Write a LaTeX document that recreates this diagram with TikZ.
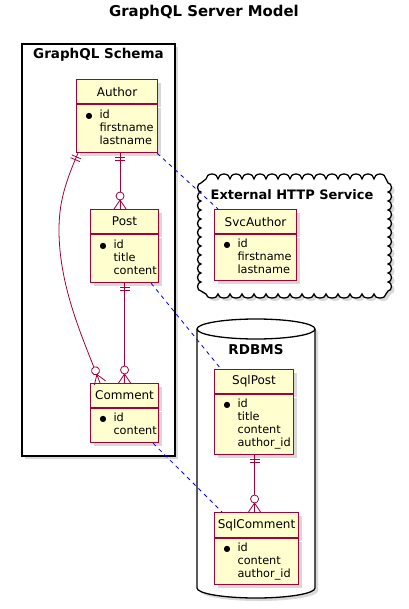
\documentclass[tikz,border=0pt]{standalone}
\usepackage{fontspec}
\setmainfont{DejaVu Sans}
\usepackage{tikz}
\usetikzlibrary{positioning}
\usetikzlibrary{calc}
\usetikzlibrary{shadows}
\usetikzlibrary{decorations.markings}

\definecolor{erred}{HTML}{A80036}
\definecolor{erfill}{HTML}{FEFECE}
\definecolor{linkblue}{HTML}{0000FF}

\newcommand{\pk}{{\fontsize{8}{8}\selectfont ●}}

\tikzset{
    entity/.style={rectangle,draw=erred,fill=erfill,line width=1.1pt,inner sep=0pt,
        drop shadow={shadow xshift=3pt,shadow yshift=-3pt,opacity=0.3}},
    enthead/.style={entity,anchor=north west,minimum height=24pt,font=\fontsize{12}{14}\selectfont},
    entbody/.style={entity,inner xsep=9pt,align=left,font=\fontsize{11.3}{13}\selectfont},
    one2many/.style={erred,line width=0.8pt,postaction={decorate},
        decoration={markings,
            mark=at position 4pt with {\draw (0,-5pt) -- (0,5pt);},
            mark=at position 7pt with {\draw (0,-5pt) -- (0,5pt);},
            mark=at position 0.9999 with {\draw (-9pt,0) -- (0,-6pt) (-9pt,0) -- (0,6pt);
                \filldraw[fill=white] (-13pt,0) circle (4pt);}}},
    link/.style={linkblue,line width=0.8pt,dash pattern=on 4pt off 4pt},
    container/.style={draw=black,fill=white,line width=1.3pt,
        drop shadow={shadow xshift=3pt,shadow yshift=-3pt,opacity=0.3}},
    contlabel/.style={font=\bfseries\fontsize{13.5}{16}\selectfont},
}

\begin{document}
\begin{tikzpicture}[x=1pt,y=-1pt]
        \useasboundingbox (0,0) rectangle (408,609);
        \begin{scope}

            \node[font=\bfseries\fontsize{14.9}{17}\selectfont] (title) at (204,12) {GraphQL Server Model};

            % GraphQL Schema frame
            \draw[container] (22,44) rectangle (175,456);
            \node[contlabel] (schema) at (98.5,55) {GraphQL Schema};

            % External service cloud
            \draw[container] (206,179)
                \foreach \i in {1,...,15} {arc[start angle=180,end angle=0,x radius=6pt,y radius=5pt]}
                -- (388,183)
                \foreach \i in {1,...,12} {arc[start angle=90,end angle=-90,x radius=3.5pt,y radius=4.5pt]}
                -- (386,294)
                \foreach \i in {1,...,15} {arc[start angle=0,end angle=-180,x radius=6pt,y radius=4pt]}
                -- (201,291)
                \foreach \i in {1,...,12} {arc[start angle=270,end angle=90,x radius=3.5pt,y radius=4.5pt]}
                -- cycle;
            \node[contlabel,font=\bfseries\fontsize{13}{16}\selectfont] (service) at (292,195) {External HTTP Service};

            % RDBMS cylinder
            \filldraw[container] (197,329) -- (197,588) arc[start angle=180,end angle=360,x radius=59pt,y radius=10pt]
                -- (315,329) arc[start angle=0,end angle=180,x radius=59pt,y radius=10pt] -- cycle;
            \draw[line width=1.3pt] (197,329) arc[start angle=180,end angle=360,x radius=59pt,y radius=10pt];
            \node[contlabel] (rdbms) at (256,350) {RDBMS};

            % Author
            \node[enthead,minimum width=81pt] (authorH) at (76,79) {Author};
            \node[entbody,text width=63pt,minimum height=48pt,below=0pt of authorH] (authorB)
                {\begin{tabular}{@{}l@{\hspace{7pt}}l@{}} \pk & id\\ & firstname\\ & lastname \end{tabular}};

            % Post
            \node[enthead,minimum width=68pt] (postH) at (90,209) {Post};
            \node[entbody,text width=50pt,minimum height=48pt,below=0pt of postH] (postB)
                {\begin{tabular}{@{}l@{\hspace{7pt}}l@{}} \pk & id\\ & title\\ & content \end{tabular}};

            % Comment
            \node[enthead,minimum width=68pt] (commentH) at (90,383) {Comment};
            \node[entbody,text width=50pt,minimum height=34pt,below=0pt of commentH] (commentB)
                {\begin{tabular}{@{}l@{\hspace{7pt}}l@{}} \pk & id\\ & content \end{tabular}};

            % SvcAuthor
            \node[enthead,minimum width=82pt] (svcauthorH) at (214,209) {SvcAuthor};
            \node[entbody,text width=64pt,minimum height=46pt,below=0pt of svcauthorH] (svcauthorB)
                {\begin{tabular}{@{}l@{\hspace{7pt}}l@{}} \pk & id\\ & firstname\\ & lastname \end{tabular}};

            % SqlPost
            \node[enthead,minimum width=79pt] (sqlpostH) at (214,369) {SqlPost};
            \node[entbody,text width=61pt,minimum height=60pt,below=0pt of sqlpostH] (sqlpostB)
                {\begin{tabular}{@{}l@{\hspace{7pt}}l@{}} \pk & id\\ & title\\ & content\\ & author\_id \end{tabular}};

            % SqlComment
            \node[enthead,minimum width=84pt,minimum height=25pt] (sqlcommentH) at (214,512) {SqlComment};
            \node[entbody,text width=66pt,minimum height=46pt,below=0pt of sqlcommentH] (sqlcommentB)
                {\begin{tabular}{@{}l@{\hspace{7pt}}l@{}} \pk & id\\ & content\\ & author\_id \end{tabular}};

            % Relations
            \draw[one2many] ($(authorB.south)+(3,0)$) -- ($(postH.north)+(-4.5,0)$);
            \draw[one2many] (postB.south) -- (commentH.north);
            \draw[one2many] ($(authorB.south west)+(2,0)$) .. controls (64,185) and (59,205) .. (59,230)
                .. controls (59,290) and (86,345) .. ($(commentH.north west)+(10,0)$);
            \draw[one2many] ($(sqlpostB.south)+(0.5,0)$) -- ($(sqlcommentH.north)+(-2,0)$);

            % Mappings
            \draw[link] ($(authorB.south east)+(-1,0)$) -- ($(svcauthorH.north west)+(4,0)$);
            \draw[link] ($(postB.south east)+(-8,0)$) -- ($(sqlpostH.north west)+(7,0)$);
            \draw[link] ($(commentB.south east)+(-6,0)$) -- ($(sqlcommentH.north west)+(8,0)$);

        \end{scope}
\end{tikzpicture}
\end{document}
